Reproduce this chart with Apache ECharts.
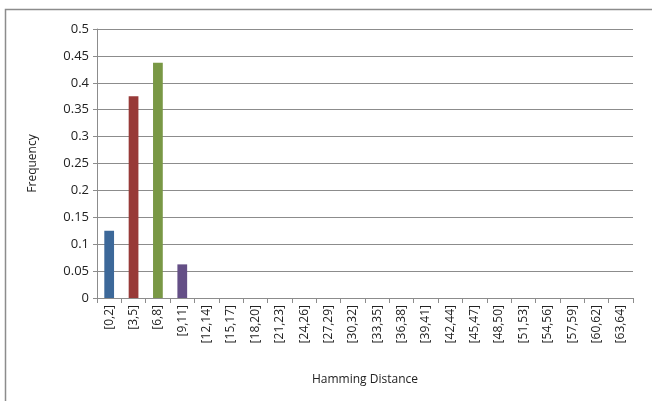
<!DOCTYPE html>
<html>
<head>
<meta charset="utf-8">
<script src="https://cdn.jsdelivr.net/npm/echarts@6/dist/echarts.min.js"></script>
<style>
  html, body { margin: 0; padding: 0; background: #fff; }
  #chart { width: 652px; height: 401px; }
</style>
</head>
<body>
<div id="chart"></div>
<script>
// Hamming distance bins (x axis categories)
const categories = [
  '[0,2]', '[3,5]', '[6,8]', '[9,11]', '[12,14]', '[15,17]', '[18,20]', '[21,23]',
  '[24,26]', '[27,29]', '[30,32]', '[33,35]', '[36,38]', '[39,41]', '[42,44]',
  '[45,47]', '[48,50]', '[51,53]', '[54,56]', '[57,59]', '[60,62]', '[63,64]'
];
// Relative frequency per bin
const frequencies = [
  0.125, 0.375, 0.4375, 0.0625, 0, 0, 0, 0, 0, 0, 0,
  0, 0, 0, 0, 0, 0, 0, 0, 0, 0, 0
];
// Per-bar fill colours (cycled)
const barColors = ['#3c6899', '#983a38', '#799845', '#644f86'];

const chart = echarts.init(document.getElementById('chart'), null, { renderer: 'canvas' });
const font = "'Open Sans', 'Liberation Sans', sans-serif";

chart.setOption({
  animation: false,
  backgroundColor: '#ffffff',
  graphic: [{
    type: 'rect',
    shape: { x: 5.5, y: 9.5, width: 800, height: 600 },
    style: { fill: 'none', stroke: '#8c8c8c', lineWidth: 1.5 },
    silent: true
  }],
  grid: { left: 97, right: 19, top: 29, bottom: 103, containLabel: false },
  xAxis: {
    type: 'category',
    data: categories,
    boundaryGap: true,
    name: 'Hamming Distance',
    nameLocation: 'middle',
    nameGap: 76,
    nameTextStyle: { fontFamily: font, fontSize: 12, color: '#222' },
    axisLine: { lineStyle: { color: '#8c8c8c', width: 1 } },
    axisTick: { show: true, alignWithLabel: false, length: 5, lineStyle: { color: '#8c8c8c' } },
    axisLabel: { rotate: 90, interval: 0, margin: 7, fontFamily: font, fontSize: 12, color: '#222' },
    splitLine: { show: false }
  },
  yAxis: {
    type: 'value',
    min: 0,
    max: 0.5,
    interval: 0.05,
    name: 'Frequency',
    nameLocation: 'middle',
    nameGap: 58,
    nameRotate: 90,
    nameTextStyle: { fontFamily: font, fontSize: 12, color: '#222' },
    axisLine: { show: true, lineStyle: { color: '#8c8c8c', width: 1 } },
    axisTick: { show: true, length: 4, lineStyle: { color: '#8c8c8c' } },
    axisLabel: {
      margin: 8, fontFamily: font, fontSize: 13, color: '#222',
      formatter: v => String(parseFloat(v.toFixed(2)))
    },
    splitLine: { show: true, lineStyle: { color: '#8c8c8c', width: 1 } }
  },
  series: [{
    type: 'bar',
    barCategoryGap: '60%',
    data: frequencies.map((v, i) => ({
      value: v,
      itemStyle: { color: barColors[i % barColors.length] }
    }))
  }]
});
</script>
</body>
</html>
